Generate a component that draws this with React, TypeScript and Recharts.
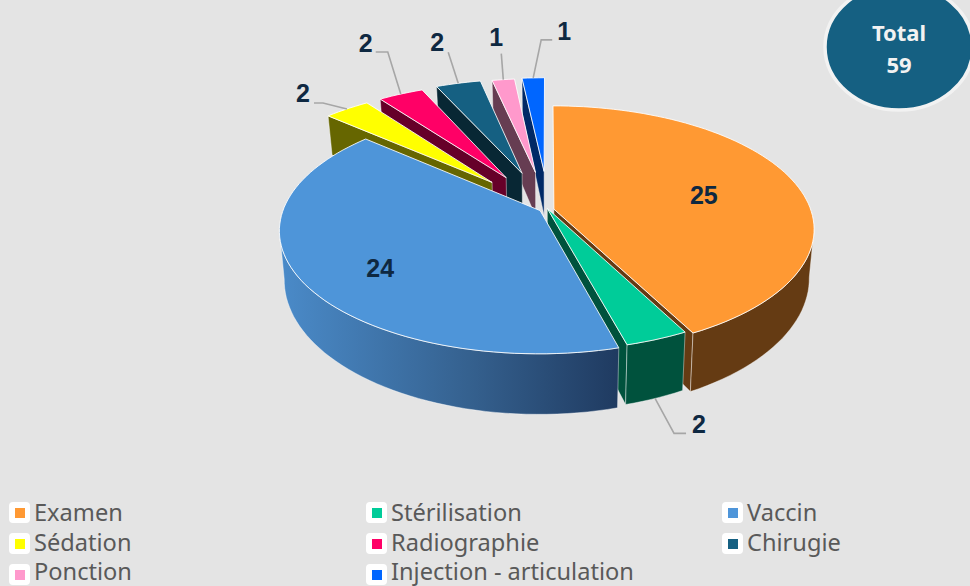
import React from 'react';
import { PieChart, Pie, Legend } from 'recharts';

const categories = ['Examen', 'Stérilisation', 'Vaccin', 'Sédation', 'Radiographie', 'Chirugie', 'Ponction', 'Injection - articulation'];
const values = [25, 2, 24, 2, 2, 2, 1, 1];
const topColors = ['#FF9933', '#00CC99', '#4E95D9', '#FFFF00', '#FF0066', '#156082', '#FF99CC', '#0066FF'];
const wallColors = ['#653B13', '#00523D', 'url(#vaccinWall)', '#666600', '#660029', '#082734', '#663D52', '#002966'];
const legendRows = [
  ['Examen', 'Stérilisation', 'Vaccin'],
  ['Sédation', 'Radiographie', 'Chirugie'],
  ['Ponction', 'Injection - articulation'],
];
const total = 59;

// slice shift on the pie plane (pie radius = 1), x then away from the viewer
const sliceShift: Record<string, number[]> = {
  Examen: [0.027, 0.024],
  'Stérilisation': [0.001, 0.03],
  Vaccin: [-0.027, 0.012],
  'Sédation': [-0.222, 0.255],
  Radiographie: [-0.166, 0.298],
  Chirugie: [-0.102, 0.338],
  Ponction: [-0.047, 0.345],
  'Injection - articulation': [-0.012, 0.355],
};

// label offsets from the rim of the slice: text, then leader points
const labelPlace: Record<string, { text: number[]; line?: number[][]; low?: boolean }> = {
  Examen: { text: [-90, 13] },
  Vaccin: { text: [79, -12] },
  'Stérilisation': { text: [44, 26], line: [[19, 35], [31, 35]], low: true },
  'Sédation': { text: [-44, -16], line: [[-24, -6], [-33, -6]] },
  Radiographie: { text: [-35, -51], line: [[-13, -42], [-25, -42]] },
  Chirugie: { text: [-21, -41], line: [[-10, -31]] },
  Ponction: { text: [-7, -43], line: [[-2, -26]] },
  'Injection - articulation': { text: [31, -47], line: [[8, -38], [19, -38]] },
};

const CX = 547;
const CY = 212;
const RX = 257.6;
const RY = 120.7;
const PERSP = 0.161;
const DEPTH = 47.5;

const rad = (d: number) => (d * Math.PI) / 180;

// pie plane to screen, top face
function top(cx: number, cy: number, u: number, v: number) {
  const d = 1 + PERSP * v;
  return [cx + (RX * u) / d, cy - (RY * v) / d];
}

// same point on the underside
function under(cx: number, cy: number, u: number, v: number) {
  const d = 1 + PERSP * v;
  return [cx + (0.982 * RX * u) / d, cy - (RY * v) / d + DEPTH / Math.pow(d, 1.4)];
}

const toPath = (pts: number[][]) => 'M' + pts.map((p) => p[0].toFixed(1) + ',' + p[1].toFixed(1)).join('L') + 'Z';

function polyArea(pts: number[][]) {
  let s = 0;
  pts.forEach((p, i) => {
    const q = pts[(i + 1) % pts.length];
    s += p[0] * q[1] - q[0] * p[1];
  });
  return s;
}

function Slice3D(props: any) {
  const { cx, cy, startAngle, endAngle, name } = props;
  const idx = categories.indexOf(name);
  const [su, sv] = sliceShift[name];
  const a = Math.min(startAngle, endAngle);
  const b = Math.max(startAngle, endAngle);
  const t1 = ((90 - b) % 360 + 360) % 360;
  const t2 = t1 + (b - a);

  const rim = (t: number) => [su + Math.sin(rad(t)), sv + Math.cos(rad(t))];
  const steps = (from: number, to: number) => {
    const n = Math.max(2, Math.ceil((to - from) / 2));
    return Array.from({ length: n + 1 }, (_, i) => from + ((to - from) * i) / n);
  };

  const topFace = [top(cx, cy, su, sv), ...steps(t1, t2).map((t) => top(cx, cy, rim(t)[0], rim(t)[1]))];

  const cut = (t: number) => [
    top(cx, cy, su, sv),
    top(cx, cy, rim(t)[0], rim(t)[1]),
    under(cx, cy, rim(t)[0], rim(t)[1]),
    under(cx, cy, su, sv),
  ];
  const cutStart = cut(t1);
  const cutEnd = cut(t2);

  const lo = Math.max(t1, 99);
  const hi = Math.min(t2, 261);
  let outer: number[][] | null = null;
  if (hi > lo) {
    const ts = steps(lo, hi);
    outer = [
      ...ts.map((t) => top(cx, cy, rim(t)[0], rim(t)[1])),
      ...ts.slice().reverse().map((t) => under(cx, cy, rim(t)[0], rim(t)[1])),
    ];
  }

  const wall = wallColors[idx];
  const cutFill = name === 'Vaccin' ? '#203C61' : wall;
  return (
    <g>
      {polyArea(cutStart) < -200 && <path d={toPath(cutStart)} fill={cutFill} stroke="#fff" strokeOpacity={0.6} strokeWidth={0.7} />}
      {polyArea(cutEnd) > 200 && <path d={toPath(cutEnd)} fill={cutFill} stroke="#fff" strokeOpacity={0.6} strokeWidth={0.7} />}
      {outer && <path d={toPath(outer)} fill={wall} stroke="#fff" strokeOpacity={0.6} strokeWidth={0.7} />}
      <path d={toPath(topFace)} fill={topColors[idx]} stroke="#fff" strokeOpacity={0.85} strokeWidth={1} />
    </g>
  );
}

function SliceLabel(props: any) {
  const { cx, cy, midAngle, name, value } = props;
  const place = labelPlace[name];
  if (!place) return null;
  const [su, sv] = sliceShift[name];
  const t = 90 - midAngle;
  const u = su + Math.sin(rad(t));
  const v = sv + Math.cos(rad(t));
  const p = place.low ? under(cx, cy, u, v) : top(cx, cy, u, v);
  const linePts = place.line ? [p, ...place.line.map((o) => [p[0] + o[0], p[1] + o[1]])] : null;
  return (
    <g>
      {linePts && (
        <polyline
          points={linePts.map((q) => q.join(',')).join(' ')}
          fill="none"
          stroke="#A6A6A6"
          strokeWidth={1.6}
        />
      )}
      <text
        x={p[0] + place.text[0]}
        y={p[1] + place.text[1]}
        textAnchor="middle"
        dominantBaseline="central"
        fontFamily="Liberation Sans"
        fontWeight="bold"
        fontSize={25}
        fill="#0E2841"
      >
        {value}
      </text>
    </g>
  );
}

function LegendBlock() {
  const columns = [9, 366, 722];
  const textNudge = [0, -1, -3.5];
  return (
    <div style={{ position: 'relative', width: 970, height: 89 }}>
      {legendRows.map((row, r) =>
        row.map((name, c) => (
          <div key={name} style={{ position: 'absolute', left: columns[c], top: 5 + r * 31, display: 'flex', alignItems: 'center' }}>
            <span style={{ width: 21, height: 21, background: '#fff', borderRadius: 4, display: 'flex', alignItems: 'center', justifyContent: 'center' }}>
              <span style={{ width: 10, height: 10, background: topColors[categories.indexOf(name)] }} />
            </span>
            <span style={{ marginLeft: 4, position: 'relative', top: textNudge[r], fontFamily: 'Noto Sans', fontSize: 23.6, lineHeight: '21px', color: '#595959', whiteSpace: 'nowrap' }}>{name}</span>
          </div>
        ))
      )}
    </div>
  );
}

const sliceRow = (i: number) => ({ name: categories[i], value: values[i] });
// nearest slices are painted last, so two pies: the far fan and the big slices
const farData = [7, 6, 5, 4, 3].map(sliceRow);
const nearData = [0, 1, 2].map(sliceRow);
const farSweep = (farData.reduce((s, d) => s + d.value, 0) / total) * 360;

export default function App() {
  return (
    <div style={{ position: 'absolute', left: 0, top: 0, width: 970, height: 586, background: '#E4E4E4', overflow: 'hidden' }}>
      <PieChart width={970} height={586} margin={{ top: 0, right: 0, bottom: 0, left: 0 }}>
        <defs>
          <linearGradient id="vaccinWall" gradientUnits="userSpaceOnUse" x1={283} y1={0} x2={620} y2={0}>
            <stop offset="0" stopColor="#4A8AC8" />
            <stop offset="0.55" stopColor="#35618F" />
            <stop offset="1" stopColor="#1F3A60" />
          </linearGradient>
        </defs>
        <Pie
          data={farData}
          dataKey="value"
          nameKey="name"
          cx={CX}
          cy={CY}
          outerRadius={RX}
          startAngle={90}
          endAngle={90 + farSweep}
          shape={(p: any) => <Slice3D {...p} />}
          label={(p: any) => <SliceLabel {...p} />}
          labelLine={false}
          isAnimationActive={false}
        />
        <Pie
          data={nearData}
          dataKey="value"
          nameKey="name"
          cx={CX}
          cy={CY}
          outerRadius={RX}
          startAngle={90}
          endAngle={90 - (360 - farSweep)}
          shape={(p: any) => <Slice3D {...p} />}
          label={(p: any) => <SliceLabel {...p} />}
          labelLine={false}
          isAnimationActive={false}
        />
        <g>
          <ellipse cx={899} cy={47} rx={74} ry={63} fill="#156082" stroke="#F2F2F2" strokeWidth={3.5} />
          <text x={899} y={32} textAnchor="middle" dominantBaseline="central" fontFamily="Noto Sans" fontWeight={700} fontSize={22} fill="#F2F2F2">Total</text>
          <text x={899} y={64} textAnchor="middle" dominantBaseline="central" fontFamily="Noto Sans" fontWeight={700} fontSize={22} fill="#F2F2F2">{total}</text>
        </g>
        <Legend content={<LegendBlock />} wrapperStyle={{ position: 'absolute', left: 0, top: 497, width: 970, height: 89, bottom: 'auto' }} />
      </PieChart>
    </div>
  );
}
